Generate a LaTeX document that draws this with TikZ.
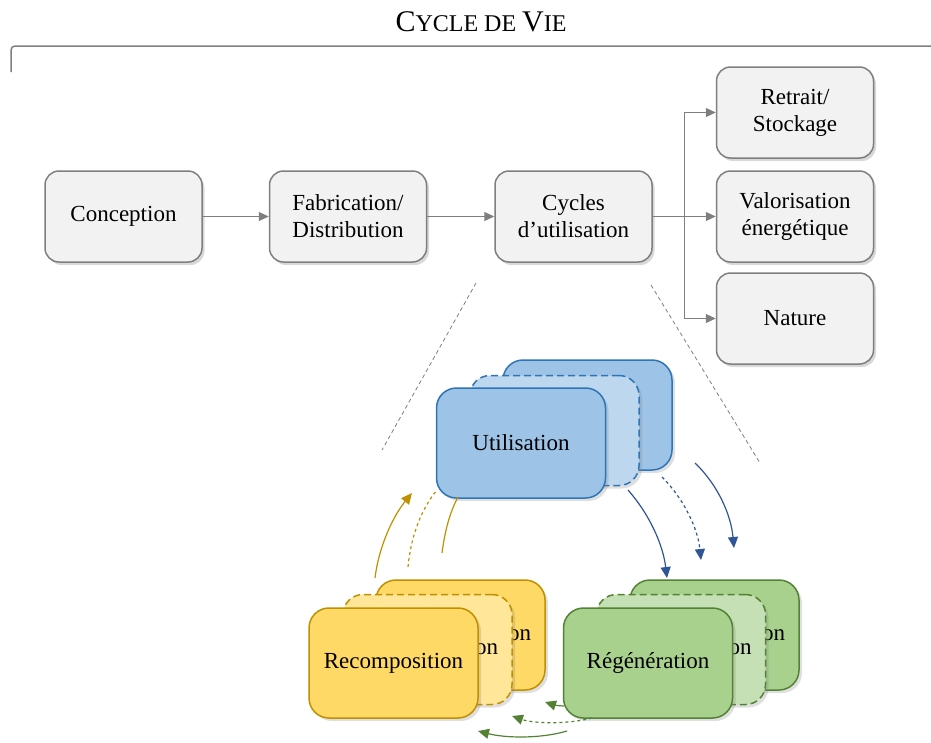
\documentclass[tikz,border=0pt]{standalone}
\usepackage{fontspec}
\setmainfont{Liberation Serif}
\usepackage{tikz}
\usetikzlibrary{arrows.meta,positioning,shadows}
\pgfdeclarelayer{background}
\pgfsetlayers{background,main}
\definecolor{boxgray}{HTML}{F2F2F2}
\definecolor{linegray}{HTML}{7F7F7F}
\definecolor{ublue}{HTML}{9DC3E6}
\definecolor{ubluelt}{HTML}{BDD7EE}
\definecolor{ubluedk}{HTML}{2E75B6}
\definecolor{arrblue}{HTML}{2F5597}
\definecolor{ryel}{HTML}{FFD966}
\definecolor{ryellt}{HTML}{FFE699}
\definecolor{ryeldk}{HTML}{BF9000}
\definecolor{rgreen}{HTML}{A9D18E}
\definecolor{rgreenlt}{HTML}{C5E0B4}
\definecolor{rgreendk}{HTML}{548235}
\tikzset{
    font={\fontsize{23pt}{27pt}\selectfont},
    stage/.style={
        rectangle,
        rounded corners=14pt,
        fill=boxgray,
        draw=linegray, line width=1.5pt,
        minimum width=157pt,
        minimum height=91pt,
        align=center,
        drop shadow={opacity=0.3, shadow xshift=2.5pt, shadow yshift=-3pt}
    },
    card/.style={
        rectangle,
        rounded corners=20pt,
        line width=1.5pt,
        minimum width=169pt,
        minimum height=110pt,
        drop shadow={opacity=0.25, shadow xshift=3pt, shadow yshift=-3pt}
    },
    % cards behind: only the end of their text shows
    hidden/.style={text width=141pt, align=right},
    ghost/.style={dash pattern=on 7pt off 4pt},
    flow/.style={draw=linegray, line width=1pt,
        -{Triangle[length=10pt,width=9pt]}},
    guide/.style={draw=linegray, line width=0.8pt, dash pattern=on 4pt off 3pt},
    loop/.style={line width=1.2pt, -{Triangle[length=11pt,width=10pt]}},
}
\newcommand{\titlecaps}[2]{{\fontsize{30pt}{30pt}\selectfont #1}{\fontsize{24pt}{24pt}\selectfont #2}}

\begin{document}
\begin{tikzpicture}[x=1pt, y=-1pt]
\useasboundingbox (0,0) rectangle (931,742);

\node(title) at (481,22){\titlecaps{C}{YCLE DE }\titlecaps{V}{IE}};
\draw[linegray, line width=1.5pt, rounded corners=4pt] (11,72) -- (11,46) -- (931,46);

% main life cycle
\node[stage](concept) at (123.5,216.5){Conception};
\node[stage, right=66pt of concept](fab){Fabrication/\\Distribution};
\node[stage, right=67pt of fab](cycles){Cycles\\d'utilisation};
\node[stage](retrait) at (795,112.5){Retrait/\\Stockage};
\node[stage](valor) at (795,216.5){Valorisation\\énergétique};
\node[stage](nature) at (795,318.5){Nature};

\draw[flow] (concept) -- (fab);
\draw[flow] (fab) -- (cycles);
\coordinate (split) at (684,216.5);
\draw[draw=linegray, line width=1pt] (cycles.east) -- (split);
\foreach \n in {retrait,valor,nature}
    \draw[flow] (split) |- (\n.west);

\draw[guide] (476,283) -- (382,450);
\draw[guide] (651,285) -- (760,463);

% zoom on the use cycles
\node[card, fill=ublue, draw=ubluedk](utilback) at (587.5,415){};
\node[card, ghost, fill=ubluelt, draw=ubluedk](utilmid) at (554.5,430.5){};
\node[card, fill=ublue, draw=ubluedk](util) at (521,443){Utilisation};

\node[card, hidden, fill=ryel, draw=ryeldk](recompback) at (460.5,635){on};
\node[card, hidden, ghost, fill=ryellt, draw=ryeldk](recompmid) at (427.5,649.5){on};
\node[card, fill=ryel, draw=ryeldk](recomp) at (393.5,663){Recomposition};

\node[card, hidden, fill=rgreen, draw=rgreendk](regenback) at (714.5,635){on};
\node[card, hidden, ghost, fill=rgreenlt, draw=rgreendk](regenmid) at (681,649.5){on};
\node[card, fill=rgreen, draw=rgreendk](regen) at (648,663){Régénération};

\draw[loop, arrblue] (628,490) .. controls (650,515) and (663,545) .. (667,578);
\draw[loop, arrblue, dashed] (662,477) .. controls (685,500) and (698,530) .. (701,560);
\draw[loop, arrblue] (695,463) .. controls (718,485) and (731,515) .. (734,548);

\draw[loop, rgreendk] (564,706) .. controls (557,706) and (551,704) .. (545,702);
\draw[loop, rgreendk, dashed] (592,718) .. controls (570,724) and (535,724) .. (512,716);
\draw[loop, rgreendk] (567,731) .. controls (540,739) and (505,738) .. (478,731);

\draw[loop, ryeldk] (375,578) .. controls (379,545) and (394,515) .. (412,493);
\draw[line width=1.2pt, ryeldk, dashed] (408,567) .. controls (411,535) and (422,508) .. (437,490);
\draw[line width=1.2pt, ryeldk] (442,553) .. controls (445,530) and (450,512) .. (458,497);
\end{tikzpicture}
\end{document}
